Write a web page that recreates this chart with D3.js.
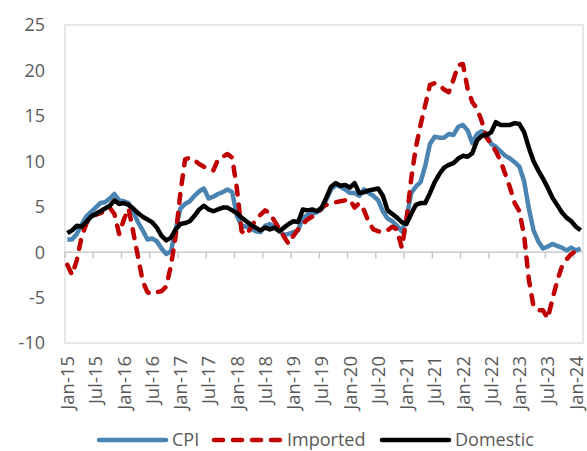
<!DOCTYPE html>
<html>
<head>
<meta charset="utf-8">
<script src="https://cdn.jsdelivr.net/npm/d3@7"></script>
<style>
  body { margin: 0; background: #fff; }
  text { font-family: "Open Sans", sans-serif; fill: #595959; }
</style>
</head>
<body>
<div id="chart"></div>
<script>
// monthly, Jan-15 .. Feb-24 (110 months)
var months = d3.timeMonths(new Date(2015, 0, 1), new Date(2024, 2, 1));

var cpi = [1.4, 1.4, 2.0, 3.0, 3.9, 4.4, 4.9, 5.4, 5.5, 5.9, 6.4, 5.7,
    5.6, 5.4, 4.4, 3.3, 2.4, 1.4, 1.5, 1.2, 0.4, -0.2, 0.1, 2.5,
    4.8, 5.3, 5.6, 6.2, 6.7, 7.0, 5.9, 6.1, 6.4, 6.6, 6.9, 6.6,
    4.0, 2.9, 2.8, 2.6, 2.3, 2.2, 2.9, 3.1, 2.7, 2.4, 1.9, 2.0,
    2.2, 2.4, 3.8, 4.1, 4.2, 4.4, 4.7, 5.8, 6.9, 7.4, 7.2, 6.9,
    6.5, 6.5, 6.2, 6.9, 6.5, 6.2, 5.7, 4.5, 3.7, 3.4, 2.9, 2.3,
    3.6, 6.5, 7.2, 7.7, 9.5, 11.9, 12.7, 12.6, 12.6, 13.0, 12.9, 13.8,
    14.0, 13.4, 12.0, 13.0, 13.3, 13.0, 11.9, 11.6, 11.1, 10.6, 10.3, 9.9,
    9.4, 7.8, 4.8, 2.4, 1.2, 0.4, 0.6, 0.9, 0.7, 0.5, 0.2, 0.5,
    0.2, 0.4];

var imported = [-1.4, -2.5, -0.9, 1.6, 3.1, 4.0, 4.1, 4.3, 4.5, 4.9, 4.2, 2.0,
    3.6, 4.8, 2.2, -0.5, -3.2, -4.4, -4.6, -4.4, -4.3, -3.8, -1.5, 1.8,
    6.5, 10.2, 10.4, 10.1, 9.7, 9.4, 9.1, 9.0, 10.2, 10.5, 10.8, 10.4,
    7.0, 2.3, 1.9, 2.7, 3.6, 4.1, 4.6, 4.3, 3.4, 2.6, 1.7, 0.9,
    1.8, 2.5, 3.1, 3.6, 3.9, 4.3, 4.9, 5.2, 5.4, 5.5, 5.6, 5.7,
    5.8, 4.9, 5.4, 4.6, 3.3, 2.5, 2.3, 2.2, 2.4, 2.8, 2.5, 0.5,
    3.5, 8.0, 11.5, 14.0, 16.2, 18.4, 18.6, 18.4, 17.9, 17.6, 19.0, 20.6,
    20.7, 18.0, 16.5, 15.8, 14.4, 12.6, 11.9, 11.1, 10.0, 8.6, 7.1, 5.4,
    4.5, 1.8, -3.0, -6.0, -6.4, -6.4, -7.3, -5.2, -3.2, -1.6, -0.8, -0.2,
    0.1, 0.3];

var domestic = [2.1, 2.4, 2.9, 2.8, 3.3, 3.9, 4.2, 4.5, 4.8, 5.1, 5.7, 5.3,
    5.4, 5.2, 4.8, 4.3, 3.9, 3.6, 3.3, 2.7, 1.8, 1.3, 1.6, 2.5,
    3.1, 3.2, 3.4, 4.0, 4.7, 5.1, 4.7, 4.5, 4.7, 4.9, 4.9, 4.6,
    4.3, 3.8, 3.4, 3.0, 2.7, 2.4, 2.7, 2.5, 2.7, 2.3, 2.7, 3.1,
    3.4, 3.3, 4.7, 4.6, 4.7, 4.5, 4.9, 6.0, 7.2, 7.6, 7.3, 7.4,
    7.1, 7.6, 6.5, 6.6, 6.8, 6.9, 7.0, 6.2, 4.6, 4.2, 3.8, 3.3,
    3.1, 4.2, 5.2, 5.4, 5.4, 6.5, 7.7, 8.6, 9.3, 9.6, 9.8, 10.3,
    10.6, 10.5, 10.9, 12.3, 12.8, 12.9, 13.2, 14.3, 14.0, 14.0, 14.0, 14.2,
    14.1, 13.2, 11.5, 10.0, 9.0, 8.1, 7.1, 6.0, 5.2, 4.4, 3.8, 3.4,
    2.8, 2.4];

var tickLabels = ["Jan-15", "Jul-15", "Jan-16", "Jul-16", "Jan-17", "Jul-17", "Jan-18",
    "Jul-18", "Jan-19", "Jul-19", "Jan-20", "Jul-20", "Jan-21", "Jul-21", "Jan-22",
    "Jul-22", "Jan-23", "Jul-23", "Jan-24"];
var yTicks = [25, 20, 15, 10, 5, 0, -5, -10];

var seriesNames = ["CPI", "Imported", "Domestic"];
var seriesColors = ["#4a84b3", "#c00000", "#000000"];

var svg = d3.select("#chart").append("svg")
    .attr("width", 587)
    .attr("height", 451);

var x = d3.scaleLinear().domain([0, months.length]).range([65, 583]);
var y = d3.scaleLinear().domain([-10, 25]).range([343, 25]);

// plot area border
svg.append("rect")
    .attr("x", x(0)).attr("y", y(25))
    .attr("width", x(months.length) - x(0))
    .attr("height", y(-10) - y(25))
    .attr("fill", "none")
    .attr("stroke", "#d9d9d9")
    .attr("stroke-width", 1.2);

// y labels (no axis line, Excel style)
svg.selectAll(".ylab")
    .data(yTicks)
    .enter().append("text")
    .attr("class", "ylab")
    .attr("x", 45)
    .attr("y", function(d) { return y(d); })
    .attr("dy", "0.36em")
    .attr("text-anchor", "end")
    .style("font-size", "18px")
    .text(function(d) { return d; });

// category axis sitting on zero
var xAxis = svg.append("g").attr("class", "xaxis");
xAxis.append("line")
    .attr("x1", x(0)).attr("x2", x(months.length))
    .attr("y1", y(0)).attr("y2", y(0))
    .attr("stroke", "#bfbfbf")
    .attr("stroke-width", 1.3);
xAxis.selectAll(".tick")
    .data(tickLabels)
    .enter().append("line")
    .attr("class", "tick")
    .attr("x1", function(d, i) { return x(i * 6); })
    .attr("x2", function(d, i) { return x(i * 6); })
    .attr("y1", y(0)).attr("y2", y(0) + 6)
    .attr("stroke", "#bfbfbf")
    .attr("stroke-width", 1.3);

svg.selectAll(".xlab")
    .data(tickLabels)
    .enter().append("text")
    .attr("class", "xlab")
    .attr("transform", function(d, i) {
        return "translate(" + x(i * 6 + 0.5) + ",356) rotate(-90)";
    })
    .attr("dy", "0.36em")
    .attr("text-anchor", "end")
    .style("font-size", "18.5px")
    .text(function(d) { return d; });

// series
var line = d3.line()
    .x(function(d, i) { return x(i + 0.5); })
    .y(function(d) { return y(d); });

var lines = svg.append("g");
[cpi, imported, domestic].forEach(function(vals, k) {
    lines.append("path")
        .datum(vals)
        .attr("d", line)
        .attr("fill", "none")
        .attr("stroke", seriesColors[k])
        .attr("stroke-width", 4.5)
        .attr("stroke-linejoin", "round")
        .attr("stroke-linecap", seriesNames[k] == "Imported" ? "round" : "butt")
        .attr("stroke-dasharray", seriesNames[k] == "Imported" ? "9,10" : null);
});

// legend
var legendX = [97, 212, 380];
var legend = svg.selectAll(".legend")
    .data(seriesNames)
    .enter().append("g")
    .attr("class", "legend")
    .attr("transform", function(d, i) { return "translate(" + legendX[i] + ",440)"; });

legend.append("line")
    .attr("x1", 2).attr("x2", 69)
    .attr("stroke", function(d, i) { return seriesColors[i]; })
    .attr("stroke-width", 4.5)
    .attr("stroke-linecap", "round")
    .attr("stroke-dasharray", function(d) { return d == "Imported" ? "9,10" : null; });

legend.append("text")
    .attr("x", 75)
    .attr("dy", "0.36em")
    .style("font-size", "18px")
    .text(function(d) { return d; });
</script>
</body>
</html>
